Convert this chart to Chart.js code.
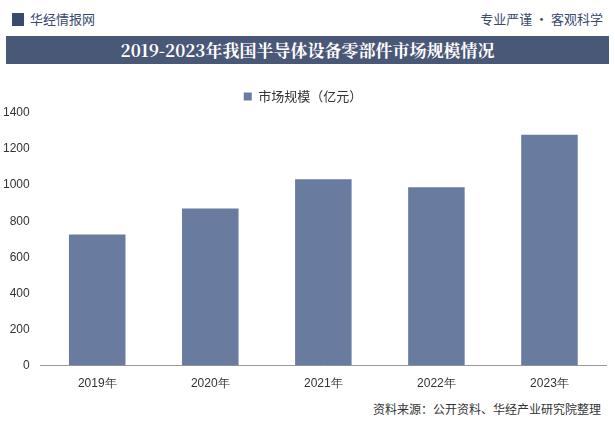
<!DOCTYPE html>
<html><head><meta charset="utf-8">
<script src="https://cdn.jsdelivr.net/npm/chart.js@4"></script>
<style>
body{margin:0;width:615px;height:430px;background:#fff;font-family:"Noto Sans CJK SC",sans-serif;position:relative;overflow:hidden}
#top{position:absolute;left:0;top:0;width:615px;height:34px;font-size:13px;color:#3a4a6e}
#logo{position:absolute;left:12px;top:9px}
#logo b{display:inline-block;width:12px;height:13px;background:#3a4a6e;margin-right:6px;vertical-align:-2px}
#slogan{position:absolute;right:12px;top:9px}
#title{position:absolute;left:6px;top:36px;width:603px;height:28px;background:#4a5878;color:#fff;font-family:"Noto Serif CJK SC","Noto Sans CJK SC",serif;font-weight:bold;font-size:17px;text-align:center;line-height:28px}
#wrap{position:absolute;left:0;top:76px;width:612px;height:318px}
#src{position:absolute;right:14px;top:400px;font-size:12px;color:#333}
</style></head><body>
<div id="top"><span id="logo"><b></b>华经情报网</span><span id="slogan">专业严谨 • 客观科学</span></div>
<div id="title">2019-2023年我国半导体设备零部件市场规模情况</div>
<div id="wrap"><canvas id="c"></canvas></div>
<div id="src">资料来源：公开资料、华经产业研究院整理</div>
<script>
// 연도별 시장 규모 (억 위안)
const years = ['2019年', '2020年', '2021年', '2022年', '2023年'];
const marketSize = [726, 871, 1033, 988, 1279];

new Chart(document.getElementById('c'), {
  type: 'bar',
  data: {
    labels: years,
    datasets: [{
      label: '市场规模（亿元）',
      data: marketSize,
      backgroundColor: '#6a7ba0',
      barPercentage: 0.5,
      categoryPercentage: 1,
    }],
  },
  options: {
    responsive: true,
    maintainAspectRatio: false,
    animation: false,
    layout: { padding: { right: 6 } },
    plugins: {
      legend: {
        labels: { color: '#333', font: { size: 13, family: 'Noto Sans CJK SC' }, boxWidth: 8, boxHeight: 8, padding: 14 },
      },
      tooltip: { enabled: false },
    },
    scales: {
      x: {
        ticks: { color: '#333', font: { size: 12 } },
        grid: { display: false },
        border: { color: '#999' },
      },
      y: {
        min: 0, max: 1400,
        ticks: { stepSize: 200, color: '#333', font: { size: 12 }, callback: v => String(v) },
        grid: { display: false },
        border: { display: false },
      },
    },
  },
});
</script>
</body></html>
